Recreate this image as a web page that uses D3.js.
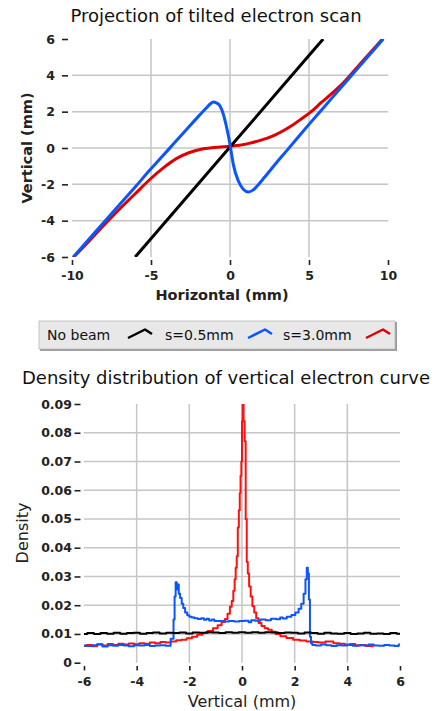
<!DOCTYPE html>
<html>
<head>
<meta charset="utf-8">
<script src="https://cdn.jsdelivr.net/npm/d3@7"></script>
<style>
  html, body { margin: 0; padding: 0; background: #fff; }
  svg { display: block; font-family: "DejaVu Sans", sans-serif; }
</style>
</head>
<body>
<svg id="chart" width="436" height="711"></svg>
<script>
// ---- top plot: projection curves (horizontal mm, vertical mm) ----
const projTicksX = [-10, -5, 0, 5, 10];
const projTicksY = [-6, -4, -2, 0, 2, 4, 6];

const projNoBeam = [[-6.0, -6.0], [0.0, 0.05], [5.9, 6.0]];

const projS05 = [
  [-9.92, -6.0], [-8.5, -4.6], [-7.17, -3.29], [-6.0, -2.15], [-5.06, -1.2],
  [-4.64, -0.8], [-3.6, 0.2], [-2.74, 1.03], [-2.0, 1.74], [-1.5, 2.2],
  [-1.25, 2.42], [-1.06, 2.53], [-0.85, 2.48], [-0.63, 2.31], [-0.42, 1.85],
  [-0.21, 1.12], [0.0, 0.2], [0.1, -0.35], [0.21, -0.9], [0.53, -1.82],
  [0.84, -2.27], [1.16, -2.42], [1.45, -2.32], [1.69, -2.12], [2.2, -1.6],
  [2.95, -0.8], [3.37, -0.37], [4.2, 0.48], [5.0, 1.3], [6.0, 2.3],
  [7.0, 3.3], [8.0, 4.3], [9.0, 5.3], [9.7, 6.0]
];

const projS30 = [
  [-10.0, -6.1], [-9.0, -5.2], [-8.0, -4.27], [-7.0, -3.37], [-6.0, -2.52],
  [-5.06, -1.72], [-4.2, -1.08], [-3.37, -0.57], [-2.6, -0.26], [-1.9, -0.08],
  [-1.0, 0.03], [0.0, 0.1], [0.6, 0.15], [1.27, 0.27], [1.8, 0.39],
  [2.32, 0.53], [2.9, 0.74], [3.37, 0.95], [3.9, 1.22], [4.43, 1.55],
  [5.06, 1.95], [5.8, 2.52], [6.54, 3.08], [7.2, 3.62], [7.8, 4.2],
  [8.54, 4.92], [9.3, 5.65], [9.7, 6.05]
];

// ---- bottom plot: density of vertical position ----
const densTicksX = [-6, -4, -2, 0, 2, 4, 6];
const densTicksY = [0, 0.01, 0.02, 0.03, 0.04, 0.05, 0.06, 0.07, 0.08, 0.09];

const densNoBeam = [
  [-6.0, .0100], [-5.75, .0103], [-5.5, .0100], [-5.25, .0103], [-5.0, .0101],
  [-4.75, .0104], [-4.5, .0101], [-4.25, .0103], [-4.0, .0104], [-3.75, .0101],
  [-3.5, .0103], [-3.25, .0105], [-3.0, .0102], [-2.75, .0104], [-2.5, .0103],
  [-2.25, .0105], [-2.0, .0102], [-1.75, .0105], [-1.5, .0104], [-1.25, .0106],
  [-1.0, .0105], [-0.75, .0103], [-0.5, .0106], [-0.25, .0104], [0.0, .0106],
  [0.25, .0104], [0.5, .0106], [0.75, .0104], [1.0, .0106], [1.25, .0105],
  [1.5, .0103], [1.75, .0105], [2.0, .0104], [2.25, .0102], [2.5, .0105],
  [2.75, .0103], [3.0, .0101], [3.25, .0104], [3.5, .0102], [3.75, .0101],
  [4.0, .0103], [4.25, .0100], [4.5, .0102], [4.75, .0104], [5.0, .0101],
  [5.25, .0102], [5.5, .0100], [5.75, .0103], [6.0, .0101]
];

const densS05 = [
  [-6.0, .0060], [-5.8, .0058], [-5.6, .0061], [-5.4, .0063], [-5.2, .0056],
  [-5.0, .0061], [-4.8, .0059], [-4.6, .0062], [-4.4, .0060], [-4.2, .0057],
  [-4.0, .0061], [-3.8, .0060], [-3.6, .0062], [-3.4, .0058], [-3.2, .0060],
  [-3.0, .0061], [-2.8, .0059], [-2.62, .0083], [-2.58, .0150], [-2.54, .0230],
  [-2.5, .0280], [-2.46, .0255], [-2.42, .0272], [-2.38, .0240], [-2.32, .0225],
  [-2.26, .0205], [-2.2, .0190], [-2.12, .0175], [-2.04, .0165], [-1.96, .0160],
  [-1.85, .0157], [-1.75, .0155], [-1.6, .0152], [-1.5, .0155], [-1.4, .0149],
  [-1.3, .0153], [-1.2, .0147], [-1.1, .0150], [-1.0, .0145], [-0.8, .0145],
  [-0.6, .0143], [-0.4, .0145], [-0.2, .0143], [0.0, .0145], [0.2, .0146],
  [0.3, .0141], [0.4, .0148], [0.6, .0146], [0.8, .0150], [1.0, .0148],
  [1.2, .0153], [1.4, .0151], [1.5, .0157], [1.6, .0154], [1.8, .0160],
  [1.95, .0166], [2.1, .0175], [2.2, .0188], [2.3, .0205], [2.38, .0240],
  [2.44, .0290], [2.48, .0330], [2.52, .0310], [2.56, .0220], [2.6, .0090],
  [2.64, .0068], [2.7, .0062], [2.9, .0060], [3.1, .0063], [3.3, .0061],
  [3.5, .0058], [3.7, .0061], [3.9, .0060], [4.1, .0062], [4.3, .0059],
  [4.5, .0061], [4.7, .0060], [4.9, .0063], [5.1, .0060], [5.3, .0059],
  [5.5, .0062], [5.7, .0060], [5.9, .0058], [6.0, .0063]
];

const densS30 = [
  [-6.0, .0058], [-5.8, .0062], [-5.6, .0057], [-5.4, .0064], [-5.2, .0060],
  [-5.0, .0065], [-4.8, .0062], [-4.6, .0066], [-4.4, .0063], [-4.2, .0067],
  [-4.0, .0064], [-3.8, .0068], [-3.6, .0066], [-3.4, .0070], [-3.2, .0068],
  [-3.0, .0072], [-2.8, .0070], [-2.6, .0074], [-2.4, .0078], [-2.2, .0080],
  [-2.0, .0085], [-1.8, .0090], [-1.6, .0097], [-1.4, .0103], [-1.2, .0110],
  [-1.0, .0120], [-0.85, .0130], [-0.7, .0142], [-0.6, .0152], [-0.5, .0170],
  [-0.42, .0195], [-0.36, .0215], [-0.3, .0250], [-0.26, .0290], [-0.22, .0330],
  [-0.18, .0370], [-0.14, .0470], [-0.1, .0530], [-0.07, .0590], [-0.04, .0650],
  [-0.01, .0700], [0.01, .0840], [0.04, .0950], [0.08, .0840], [0.12, .0770],
  [0.16, .0500], [0.2, .0350], [0.24, .0310], [0.3, .0265], [0.36, .0230],
  [0.43, .0196], [0.5, .0175], [0.58, .0155], [0.68, .0138], [0.8, .0128],
  [0.92, .0120], [1.06, .0115], [1.2, .0108], [1.35, .0100], [1.57, .0092],
  [1.8, .0086], [2.08, .0080], [2.3, .0077], [2.58, .0074], [2.8, .0072],
  [3.0, .0070], [3.34, .0074], [3.6, .0068], [3.8, .0066], [4.0, .0063],
  [4.2, .0065], [4.4, .0060], [4.6, .0062], [4.8, .0058], [5.0, .0057]
];

const legendItems = [
  { label: "No beam", color: "#000000" },
  { label: "s=0.5mm", color: "#0a55ff" },
  { label: "s=3.0mm", color: "#e00000" }
];

const svg = d3.select("#chart");
const gridColor = "#c6c6c6";
const tickFont = "bold 12.5px 'DejaVu Sans'";

// ---------- top plot ----------
const x1 = d3.scaleLinear().domain([-10, 10]).range([72, 388]);
const y1 = d3.scaleLinear().domain([-6, 6]).range([257, 39]);

svg.append("text")
  .attr("x", 216).attr("y", 21.5)
  .attr("text-anchor", "middle")
  .style("font-size", "18px").style("fill", "#111")
  .text("Projection of tilted electron scan");

const topG = svg.append("g");
topG.append("defs").append("clipPath").attr("id", "clipTop")
  .append("rect").attr("x", 72).attr("y", 39).attr("width", 316).attr("height", 218);

// gridlines (interior ticks only)
topG.selectAll(".vg").data(projTicksX.slice(1, -1)).join("line")
  .attr("x1", d => x1(d)).attr("x2", d => x1(d))
  .attr("y1", 39).attr("y2", 257)
  .style("stroke", gridColor).style("stroke-width", 1.5);
topG.selectAll(".hg").data(projTicksY.slice(1, -1)).join("line")
  .attr("x1", 72).attr("x2", 388)
  .attr("y1", d => y1(d)).attr("y2", d => y1(d))
  .style("stroke", gridColor).style("stroke-width", 1.5);

const xAxis1 = topG.append("g").attr("transform", "translate(0,260)")
  .call(d3.axisBottom(x1).tickValues(projTicksX).tickSize(5).tickPadding(6).tickFormat(d => String(d)));
const yAxis1 = topG.append("g").attr("transform", "translate(68,0)")
  .call(d3.axisLeft(y1).tickValues(projTicksY).tickSize(6).tickPadding(7).tickFormat(d => String(d)));
[xAxis1, yAxis1].forEach(a => {
  a.select(".domain").remove();
  a.selectAll("line").style("stroke", "#222").style("stroke-width", 1.6);
  a.selectAll("text").style("font", tickFont).style("fill", "#222");
});

topG.append("text")
  .attr("x", 222).attr("y", 300)
  .attr("text-anchor", "middle")
  .style("font-size", "14.5px").style("font-weight", "bold").style("fill", "#222")
  .text("Horizontal (mm)");
topG.append("text")
  .attr("transform", "translate(32,148) rotate(-90)")
  .attr("text-anchor", "middle")
  .style("font-size", "14.5px").style("font-weight", "bold").style("fill", "#222")
  .text("Vertical (mm)");

const projLine = d3.line().x(d => x1(d[0])).y(d => y1(d[1])).curve(d3.curveMonotoneX);
const linesTop = topG.append("g").attr("clip-path", "url(#clipTop)");
[[projS30, legendItems[2].color], [projNoBeam, legendItems[0].color], [projS05, legendItems[1].color]]
  .forEach(([data, color]) => {
    linesTop.append("path")
      .attr("d", projLine(data))
      .style("fill", "none").style("stroke", color)
      .style("stroke-width", 3).style("stroke-linejoin", "round");
  });

// ---------- legend ----------
const leg = svg.append("g");
leg.append("rect").attr("x", 40).attr("y", 322).attr("width", 357).attr("height", 29)
  .style("fill", "#9a9a9a");
leg.append("rect").attr("x", 39).attr("y", 321).attr("width", 356).attr("height", 28)
  .style("fill", "#e8e8e8").style("stroke", "#b8b8b8").style("stroke-width", 0.8);
const legX = [47, 165, 283];
const iconX = [128, 248, 366];
legendItems.forEach((it, i) => {
  leg.append("text").attr("x", legX[i]).attr("y", 339.5)
    .style("font-size", "14px").style("fill", "#111").text(it.label);
  const ix = iconX[i];
  leg.append("polyline")
    .attr("points", `${ix},338 ${ix + 17},329.5 ${ix + 24},334`)
    .style("fill", "none").style("stroke", it.color).style("stroke-width", 2.5)
    .style("stroke-linejoin", "round");
});

// ---------- bottom plot ----------
const x2 = d3.scaleLinear().domain([-6, 6]).range([84, 400]);
const y2 = d3.scaleLinear().domain([0, 0.09]).range([662.7, 404]);

svg.append("text")
  .attr("x", 226).attr("y", 383.5)
  .attr("text-anchor", "middle")
  .style("font-size", "18px").style("fill", "#111")
  .text("Density distribution of vertical electron curve");

const botG = svg.append("g");
botG.append("defs").append("clipPath").attr("id", "clipBot")
  .append("rect").attr("x", 84).attr("y", 404).attr("width", 316).attr("height", 259);

botG.selectAll(".vg").data(densTicksX.slice(1, -1)).join("line")
  .attr("x1", d => x2(d)).attr("x2", d => x2(d))
  .attr("y1", 404).attr("y2", 662.7)
  .style("stroke", gridColor).style("stroke-width", 1.5);
botG.selectAll(".hg").data(densTicksY.slice(1, -1)).join("line")
  .attr("x1", 84).attr("x2", 400)
  .attr("y1", d => y2(d)).attr("y2", d => y2(d))
  .style("stroke", gridColor).style("stroke-width", 1.5);

const xAxis2 = botG.append("g").attr("transform", "translate(0,666)")
  .call(d3.axisBottom(x2).tickValues(densTicksX).tickSize(4.5).tickPadding(7).tickFormat(d => String(d)));
const yAxis2 = botG.append("g").attr("transform", "translate(80.5,0)")
  .call(d3.axisLeft(y2).tickValues(densTicksY).tickSize(6).tickPadding(2.5).tickFormat(d => d === 0 ? "0" : d3.format(".2f")(d)));
[xAxis2, yAxis2].forEach(a => {
  a.select(".domain").remove();
  a.selectAll("line").style("stroke", "#222").style("stroke-width", 1.6);
  a.selectAll("text").style("font", tickFont).style("fill", "#222");
});

botG.append("text")
  .attr("x", 242).attr("y", 707)
  .attr("text-anchor", "middle")
  .style("font-size", "16px").style("fill", "#222")
  .text("Vertical (mm)");
botG.append("text")
  .attr("transform", "translate(28,533) rotate(-90)")
  .attr("text-anchor", "middle")
  .style("font-size", "16px").style("fill", "#222")
  .text("Density");

const densLine = d3.line().x(d => x2(d[0])).y(d => y2(d[1])).curve(d3.curveStep);
const linesBot = botG.append("g").attr("clip-path", "url(#clipBot)");
[[densS30, "#ff1010"], [densS05, legendItems[1].color], [densNoBeam, legendItems[0].color]]
  .forEach(([data, color]) => {
    linesBot.append("path")
      .attr("d", densLine(data))
      .style("fill", "none").style("stroke", color)
      .style("stroke-width", 2).style("stroke-linejoin", "round");
  });
</script>
</body>
</html>
